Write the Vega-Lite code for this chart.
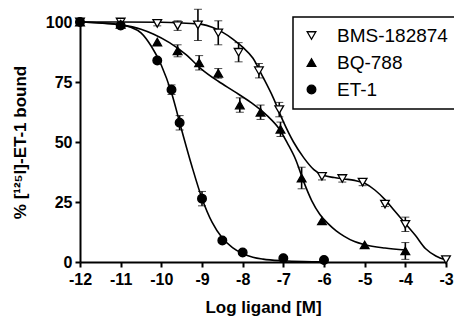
{
  "$schema": "https://vega.github.io/schema/vega-lite/v6.json",
  "width": 366,
  "height": 240,
  "autosize": "none",
  "padding": {"left": 80, "top": 22, "right": 8, "bottom": 59},
  "background": "white",
  "config": {
    "view": {"stroke": null},
    "font": "Liberation Sans",
    "axis": {
      "grid": false,
      "domainColor": "black",
      "domainWidth": 2,
      "tickColor": "black",
      "tickWidth": 2,
      "tickSize": 5,
      "labelColor": "black",
      "labelFont": "Liberation Sans",
      "labelFontSize": 16,
      "labelFontWeight": "bold",
      "titleColor": "black",
      "titleFont": "Liberation Sans",
      "titleFontWeight": "bold",
      "titleFontSize": 17
    },
    "legend": {
      "strokeColor": "black",
      "strokeWidth": 1.5,
      "fillColor": "white",
      "padding": 9,
      "labelFont": "Liberation Sans",
      "labelFontSize": 19,
      "labelColor": "black",
      "labelOffset": 16,
      "rowPadding": 7,
      "symbolSize": 75,
      "symbolStrokeWidth": 1.3
    }
  },
  "datasets": {
    "pts": [
      {"series": "BMS-182874", "x": -12, "y": 100, "err": 0},
      {"series": "BMS-182874", "x": -11, "y": 100, "err": 0},
      {"series": "BMS-182874", "x": -10.1, "y": 99.4, "err": 1},
      {"series": "BMS-182874", "x": -9.6, "y": 98.5, "err": 2},
      {"series": "BMS-182874", "x": -9.1, "y": 98.8, "err": 6.5},
      {"series": "BMS-182874", "x": -8.6, "y": 95.5, "err": 5},
      {"series": "BMS-182874", "x": -8.1, "y": 87.4, "err": 4},
      {"series": "BMS-182874", "x": -7.6, "y": 79.7, "err": 3},
      {"series": "BMS-182874", "x": -7.1, "y": 63.5, "err": 3},
      {"series": "BMS-182874", "x": -6.05, "y": 35.7, "err": 1.5},
      {"series": "BMS-182874", "x": -5.55, "y": 34.8, "err": 1.5},
      {"series": "BMS-182874", "x": -5.05, "y": 33.3, "err": 1.5},
      {"series": "BMS-182874", "x": -4.5, "y": 24.1, "err": 1},
      {"series": "BMS-182874", "x": -4, "y": 15.7, "err": 3},
      {"series": "BMS-182874", "x": -3, "y": 1, "err": 0},
      {"series": "BQ-788", "x": -12, "y": 100, "err": 0},
      {"series": "BQ-788", "x": -11, "y": 99, "err": 0},
      {"series": "BQ-788", "x": -10.1, "y": 91.6, "err": 0},
      {"series": "BQ-788", "x": -9.6, "y": 88, "err": 2.5},
      {"series": "BQ-788", "x": -9.07, "y": 83, "err": 3},
      {"series": "BQ-788", "x": -8.6, "y": 78.6, "err": 2},
      {"series": "BQ-788", "x": -8.07, "y": 65.4, "err": 3},
      {"series": "BQ-788", "x": -7.56, "y": 62.4, "err": 3},
      {"series": "BQ-788", "x": -7.07, "y": 55.3, "err": 3},
      {"series": "BQ-788", "x": -6.55, "y": 35, "err": 4.5},
      {"series": "BQ-788", "x": -6.05, "y": 17.1, "err": 0},
      {"series": "BQ-788", "x": -5, "y": 7.1, "err": 0},
      {"series": "BQ-788", "x": -4, "y": 4.6, "err": 3.5},
      {"series": "ET-1", "x": -12, "y": 100, "err": 0},
      {"series": "ET-1", "x": -11, "y": 98.5, "err": 0},
      {"series": "ET-1", "x": -10.1, "y": 84, "err": 0},
      {"series": "ET-1", "x": -9.75, "y": 71.8, "err": 2},
      {"series": "ET-1", "x": -9.55, "y": 58, "err": 3},
      {"series": "ET-1", "x": -9, "y": 26.4, "err": 3},
      {"series": "ET-1", "x": -8.5, "y": 9, "err": 0},
      {"series": "ET-1", "x": -8, "y": 4, "err": 0},
      {"series": "ET-1", "x": -7, "y": 1.6, "err": 0},
      {"series": "ET-1", "x": -6, "y": 0.8, "err": 0}
    ],
    "curves": [
      {"series": "ET-1", "x": -12, "y": 100},
      {"series": "ET-1", "x": -11.5, "y": 99.6},
      {"series": "ET-1", "x": -11, "y": 98.8},
      {"series": "ET-1", "x": -10.75, "y": 97.8},
      {"series": "ET-1", "x": -10.5, "y": 95.5},
      {"series": "ET-1", "x": -10.25, "y": 90},
      {"series": "ET-1", "x": -10, "y": 82},
      {"series": "ET-1", "x": -9.75, "y": 70.5},
      {"series": "ET-1", "x": -9.5, "y": 55},
      {"series": "ET-1", "x": -9.25, "y": 40},
      {"series": "ET-1", "x": -9, "y": 26.5},
      {"series": "ET-1", "x": -8.75, "y": 16.5},
      {"series": "ET-1", "x": -8.5, "y": 10},
      {"series": "ET-1", "x": -8.25, "y": 6},
      {"series": "ET-1", "x": -8, "y": 3.5},
      {"series": "ET-1", "x": -7.75, "y": 2},
      {"series": "ET-1", "x": -7.5, "y": 1.2},
      {"series": "ET-1", "x": -7, "y": 0.5},
      {"series": "ET-1", "x": -6.5, "y": 0.2},
      {"series": "ET-1", "x": -6, "y": 0.1},
      {"series": "BQ-788", "x": -12, "y": 100},
      {"series": "BQ-788", "x": -11.5, "y": 99.6},
      {"series": "BQ-788", "x": -11, "y": 98.8},
      {"series": "BQ-788", "x": -10.5, "y": 97},
      {"series": "BQ-788", "x": -10.2, "y": 95},
      {"series": "BQ-788", "x": -9.8, "y": 91.4},
      {"series": "BQ-788", "x": -9.4, "y": 86.5},
      {"series": "BQ-788", "x": -9, "y": 80.2},
      {"series": "BQ-788", "x": -8.6, "y": 75.3},
      {"series": "BQ-788", "x": -8.2, "y": 71},
      {"series": "BQ-788", "x": -7.8, "y": 66.5},
      {"series": "BQ-788", "x": -7.4, "y": 61},
      {"series": "BQ-788", "x": -7.1, "y": 55.4},
      {"series": "BQ-788", "x": -6.9, "y": 49.5},
      {"series": "BQ-788", "x": -6.7, "y": 42.8},
      {"series": "BQ-788", "x": -6.5, "y": 33.5},
      {"series": "BQ-788", "x": -6.3, "y": 25.5},
      {"series": "BQ-788", "x": -6.1, "y": 19.8},
      {"series": "BQ-788", "x": -5.9, "y": 16},
      {"series": "BQ-788", "x": -5.7, "y": 13},
      {"series": "BQ-788", "x": -5.5, "y": 10.7},
      {"series": "BQ-788", "x": -5.25, "y": 8.5},
      {"series": "BQ-788", "x": -5, "y": 7.2},
      {"series": "BQ-788", "x": -4.5, "y": 5.8},
      {"series": "BQ-788", "x": -4, "y": 5},
      {"series": "BMS-182874", "x": -12, "y": 100},
      {"series": "BMS-182874", "x": -11, "y": 100},
      {"series": "BMS-182874", "x": -10, "y": 99.9},
      {"series": "BMS-182874", "x": -9.5, "y": 99.6},
      {"series": "BMS-182874", "x": -9, "y": 99},
      {"series": "BMS-182874", "x": -8.75, "y": 97.8},
      {"series": "BMS-182874", "x": -8.5, "y": 95.8},
      {"series": "BMS-182874", "x": -8.25, "y": 93},
      {"series": "BMS-182874", "x": -8, "y": 89.5},
      {"series": "BMS-182874", "x": -7.75, "y": 85},
      {"series": "BMS-182874", "x": -7.5, "y": 77},
      {"series": "BMS-182874", "x": -7.25, "y": 68.5},
      {"series": "BMS-182874", "x": -7, "y": 58.5},
      {"series": "BMS-182874", "x": -6.75, "y": 50},
      {"series": "BMS-182874", "x": -6.5, "y": 43.5},
      {"series": "BMS-182874", "x": -6.25, "y": 38.5},
      {"series": "BMS-182874", "x": -6, "y": 36},
      {"series": "BMS-182874", "x": -5.75, "y": 35.2},
      {"series": "BMS-182874", "x": -5.5, "y": 34.6},
      {"series": "BMS-182874", "x": -5.25, "y": 34},
      {"series": "BMS-182874", "x": -5, "y": 32.8},
      {"series": "BMS-182874", "x": -4.75, "y": 30},
      {"series": "BMS-182874", "x": -4.5, "y": 26},
      {"series": "BMS-182874", "x": -4.25, "y": 21},
      {"series": "BMS-182874", "x": -4, "y": 16},
      {"series": "BMS-182874", "x": -3.75, "y": 11},
      {"series": "BMS-182874", "x": -3.5, "y": 5.5},
      {"series": "BMS-182874", "x": -3.25, "y": 2.5},
      {"series": "BMS-182874", "x": -3, "y": 0.8}
    ]
  },
  "encoding": {
    "x": {
      "field": "x",
      "type": "quantitative",
      "scale": {"domain": [-12, -3], "nice": false, "zero": false},
      "axis": {"values": [-12, -11, -10, -9, -8, -7, -6, -5, -4, -3], "labelExpr": "'' + datum.value", "title": "Log ligand [M]", "labelPadding": 4, "titlePadding": 12, "labelFlush": false}
    },
    "y": {
      "field": "y",
      "type": "quantitative",
      "scale": {"domain": [0, 100], "nice": false},
      "axis": {"values": [0, 25, 50, 75, 100], "title": "% [¹²⁵I]-ET-1 bound", "labelPadding": 3, "titlePadding": 16}
    }
  },
  "layer": [
    {
      "data": {"name": "curves"},
      "mark": {"type": "line", "color": "black", "strokeWidth": 1.6, "interpolate": "monotone"},
      "encoding": {"detail": {"field": "series", "type": "nominal"}}
    },
    {
      "data": {"name": "pts"},
      "transform": [{"filter": "datum.err > 0"}],
      "mark": {"type": "errorbar", "ticks": {"size": 8, "color": "black", "strokeWidth": 1.6}, "rule": {"color": "black", "strokeWidth": 1.6}},
      "encoding": {"yError": {"field": "err"}}
    },
    {
      "data": {"name": "pts"},
      "mark": {"type": "point", "filled": true, "size": 75, "strokeWidth": 1.3, "opacity": 1},
      "encoding": {
        "shape": {
          "field": "series",
          "type": "nominal",
          "scale": {"domain": ["BMS-182874", "BQ-788", "ET-1"], "range": ["triangle-down", "triangle-up", "circle"]},
          "legend": {"title": null, "orient": "none", "legendX": 213, "legendY": -5}
        },
        "fill": {
          "field": "series",
          "type": "nominal",
          "scale": {"domain": ["BMS-182874", "BQ-788", "ET-1"], "range": ["white", "black", "black"]},
          "legend": {"title": null, "orient": "none", "legendX": 213, "legendY": -5}
        },
        "stroke": {
          "field": "series",
          "type": "nominal",
          "scale": {"domain": ["BMS-182874", "BQ-788", "ET-1"], "range": ["black", "black", "black"]},
          "legend": {"title": null, "orient": "none", "legendX": 213, "legendY": -5}
        }
      }
    }
  ]
}
